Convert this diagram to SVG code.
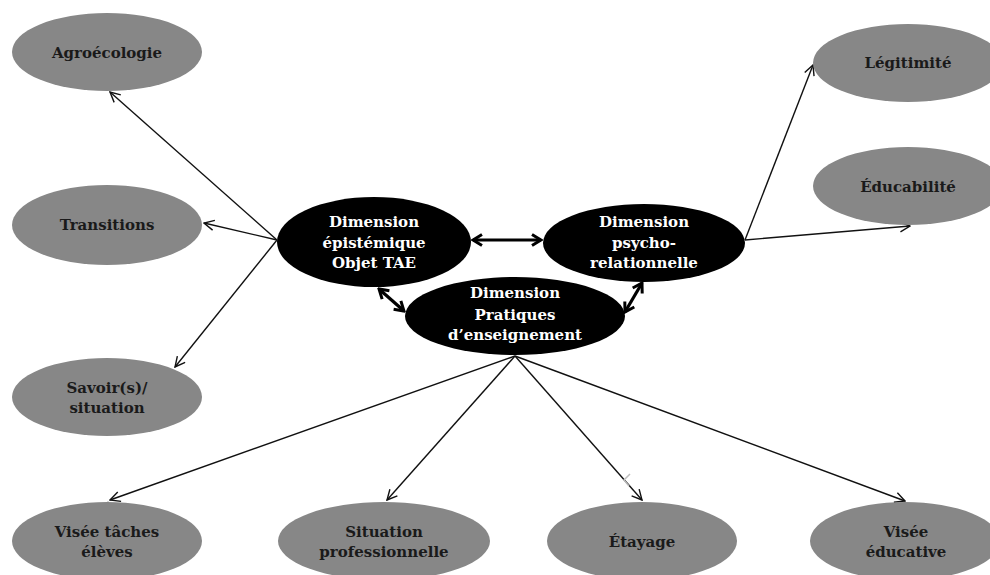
<svg xmlns="http://www.w3.org/2000/svg" width="990" height="575" viewBox="0 0 990 575">
<defs>
<style>
.g{fill:#878787;}
.b{fill:#000;}
.tg{font-family:"DejaVu Serif","Liberation Serif",serif;font-weight:bold;font-size:15px;fill:#1a1a1a;text-anchor:middle;dominant-baseline:central;}
.tb{font-family:"DejaVu Serif","Liberation Serif",serif;font-weight:bold;font-size:15px;fill:#fff;text-anchor:middle;dominant-baseline:central;}
.c{stroke:#111;stroke-width:1.4;fill:none;marker-end:url(#a);}
.t{stroke:#000;stroke-width:3.2;fill:none;marker-end:url(#ta);marker-start:url(#ts);}
.art{stroke:#bdbdbd;stroke-width:1.5;fill:none;}
</style>
<marker id="a" viewBox="0 0 12 12" refX="11" refY="6" markerWidth="12" markerHeight="12" markerUnits="userSpaceOnUse" orient="auto">
<polyline points="1,1 11,6 1,11" fill="none" stroke="#111" stroke-width="1.4"/>
</marker>
<marker id="ta" viewBox="0 0 14 14" refX="12" refY="7" markerWidth="14" markerHeight="14" markerUnits="userSpaceOnUse" orient="auto">
<polyline points="3,1.5 12,7 3,12.5" fill="none" stroke="#000" stroke-width="3"/>
</marker>
<marker id="ts" viewBox="0 0 14 14" refX="2" refY="7" markerWidth="14" markerHeight="14" markerUnits="userSpaceOnUse" orient="auto">
<polyline points="11,1.5 2,7 11,12.5" fill="none" stroke="#000" stroke-width="3"/>
</marker>
</defs>
<rect width="990" height="575" fill="#fff"/>
<g id="connectors">
<line class="c" x1="277" y1="240" x2="110" y2="92"/>
<line class="c" x1="277" y1="240" x2="204" y2="223"/>
<line class="c" x1="277" y1="240" x2="175" y2="367"/>
<line class="c" x1="745" y1="240" x2="813" y2="65"/>
<line class="c" x1="745" y1="240" x2="910" y2="226"/>
<line class="c" x1="515" y1="356" x2="110" y2="500"/>
<line class="c" x1="515" y1="356" x2="387" y2="500"/>
<line class="c" x1="515" y1="356" x2="642" y2="500"/>
<line class="c" x1="515" y1="356" x2="905" y2="501"/>
<line class="t" x1="473" y1="240" x2="541" y2="240"/>
<line class="t" x1="379" y1="289" x2="404" y2="311"/>
<line class="t" x1="642" y1="283" x2="625" y2="312"/>
<polyline class="art" points="104,508 108,502 113,507"/>
<polyline class="art" points="375,508 378,513 385,510"/>
<polyline class="art" points="630,474 624,480 629,486"/>
<polyline class="art" points="900,505 905,511 910,505"/>
</g>
<g id="n-agro"><ellipse class="g" cx="107" cy="52" rx="95" ry="39"/><text class="tg" x="107" y="53">Agroécologie</text></g>
<g id="n-trans"><ellipse class="g" cx="107" cy="225" rx="95" ry="40"/><text class="tg" x="107" y="225">Transitions</text></g>
<g id="n-savoir"><ellipse class="g" cx="107" cy="397" rx="95" ry="39"/><text class="tg" x="107" y="388">Savoir(s)/</text><text class="tg" x="107" y="408">situation</text></g>
<g id="n-visee-taches"><ellipse class="g" cx="107" cy="541" rx="95" ry="39"/><text class="tg" x="107" y="532">Visée tâches</text><text class="tg" x="107" y="552">élèves</text></g>
<g id="n-situation"><ellipse class="g" cx="384" cy="541" rx="106" ry="39"/><text class="tg" x="384" y="532">Situation</text><text class="tg" x="384" y="552">professionnelle</text></g>
<g id="n-etayage"><ellipse class="g" cx="642" cy="541" rx="95" ry="39"/><text class="tg" x="642" y="542">Étayage</text></g>
<g id="n-visee-edu"><ellipse class="g" cx="905" cy="541" rx="95" ry="39"/><text class="tg" x="906" y="532">Visée</text><text class="tg" x="906" y="552">éducative</text></g>
<g id="n-legitimite"><ellipse class="g" cx="908" cy="63" rx="95" ry="39"/><text class="tg" x="908" y="63">Légitimité</text></g>
<g id="n-educabilite"><ellipse class="g" cx="908" cy="186" rx="95" ry="39"/><text class="tg" x="908" y="187">Éducabilité</text></g>
<g id="n-epistemique"><ellipse class="b" cx="374" cy="242" rx="97" ry="45"/><text class="tb" x="374" y="222">Dimension</text><text class="tb" x="374" y="243">épistémique</text><text class="tb" x="374" y="263">Objet TAE</text></g>
<g id="n-psycho"><ellipse class="b" cx="644" cy="243" rx="101" ry="39"/><text class="tb" x="644" y="222">Dimension</text><text class="tb" x="644" y="243">psycho-</text><text class="tb" x="644" y="263">relationnelle</text></g>
<g id="n-pratiques"><ellipse class="b" cx="515" cy="316" rx="110" ry="39"/><text class="tb" x="515" y="293">Dimension</text><text class="tb" x="515" y="315">Pratiques</text><text class="tb" x="515" y="335">d’enseignement</text></g>
</svg>
